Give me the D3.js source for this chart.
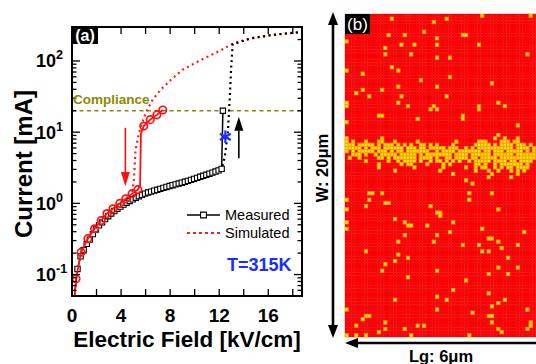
<!DOCTYPE html>
<html>
<head>
<meta charset="utf-8">
<script src="https://cdn.jsdelivr.net/npm/d3@7"></script>
<style>
  body { margin: 0; background: #fff; }
  svg { display: block; font-family: "Liberation Sans", Arial, sans-serif; }
</style>
</head>
<body>
<svg id="fig" width="536" height="364"></svg>
<script>
// ---- panel (a) data : field [kV/cm] vs current [mA]
var measX = [0.2, 0.45, 0.7, 0.95, 1.2, 1.45, 1.7, 1.95, 2.2, 2.45, 2.7, 2.95, 3.2, 3.45, 3.7, 3.95,
  4.2, 4.45, 4.7, 4.95, 5.2, 5.45, 5.7, 5.95, 6.2, 6.45, 6.7, 6.95, 7.2, 7.45, 7.7, 7.95, 8.2,
  8.45, 8.7, 8.95, 9.2, 9.45, 9.7, 9.95, 10.2, 10.45, 10.7, 10.95, 11.2, 11.45, 11.7, 11.95, 12.2, 12.3];
var measY = [0.05, 0.12, 0.18, 0.22, 0.27, 0.31, 0.37, 0.43, 0.49, 0.54, 0.6, 0.66, 0.72, 0.78, 0.84, 0.9,
  0.96, 1.02, 1.08, 1.14, 1.2, 1.26, 1.32, 1.37, 1.42, 1.46, 1.51, 1.55, 1.6, 1.65, 1.7, 1.75, 1.8,
  1.85, 1.9, 1.95, 2.01, 2.07, 2.14, 2.21, 2.28, 2.36, 2.44, 2.52, 2.61, 2.7, 2.8, 2.91, 3.05, 20];

// simulated, circles on the solid red trace
var simCirX = [0.33, 0.74, 1.3, 1.84, 2.38, 2.85, 3.34, 3.89, 4.38, 4.9, 5.37, 5.85, 6.38, 6.92, 7.4];
var simCirY = [0.087, 0.206, 0.32, 0.44, 0.575, 0.72, 0.84, 1.0, 1.16, 1.37, 1.56, 12.2, 15.0, 17.5, 20.5];
// solid red trace (includes the switching knee)
var simLineX = [0.22, 0.33, 0.74, 1.3, 1.84, 2.38, 2.85, 3.34, 3.89, 4.38, 4.9, 5.37, 5.55, 5.62, 5.85, 6.38, 6.92, 7.4];
var simLineY = [0.05, 0.087, 0.206, 0.32, 0.44, 0.575, 0.72, 0.84, 1.0, 1.16, 1.37, 1.56, 1.8, 9.5, 12.2, 15.0, 17.5, 20.5];
// simulated without compliance (red dotted)
var simDotX = [4.9, 5.05, 5.18, 5.45, 5.8, 6.1, 6.55, 7.2, 8.05, 9.0, 10.5, 12.1, 13.1, 14.6, 16.3, 18.7];
var simDotY = [1.45, 2.2, 5.6, 9.6, 15, 20, 28, 39, 54, 75, 103, 140, 175, 208, 232, 255];
// measured without compliance (black dotted)
var measDotX = [12.2, 12.45, 12.7, 12.85, 12.98, 13.1, 14.6, 16.3, 18.7];
var measDotY = [3.05, 4.5, 9.5, 28, 83, 172, 208, 232, 255];

var compliance = 20;
var redArrow = [4.35, 11.5, 1.75];    // x, from, to
var blackArrow = [13.6, 4.3, 16.5];
var starPoint = [12.5, 8.6];

var xMajor = [0, 4, 8, 12, 16];
var xMinor = [2, 6, 10, 14, 18];
var yExp = [-1, 0, 1, 2];

// ---- panel (b) data : yellow (broken) cells, [col, row]
var nCols = 60, nRows = 100;
var yellowDots = [[14,1],[31,1],[42,0],[57,0],[27,2],[13,6],[24,5],[18,6],[28,7],[36,6],[37,6],[17,9],[21,9],
  [28,9],[41,9],[12,10],[12,12],[20,12],[28,13],[0,8],[56,12],[32,13],[14,16],[16,17],[5,18],[32,19],[23,20],
  [45,21],[0,17],[28,22],[16,22],[3,24],[5,23],[11,23],[7,25],[17,25],[31,25],[0,27],[0,28],[47,27],[49,28],
  [16,27],[19,28],[27,28],[26,29],[28,29],[41,28],[41,29],[10,31],[11,31],[22,32],[36,31],[36,32],[0,33],
  [53,34],[47,37],[49,38],
  [7,55],[8,55],[11,55],[39,52],[37,51],[38,55],[45,55],[7,57],[12,58],[13,58],[6,59],[0,57],[0,60],[38,57],
  [26,59],[47,60],[28,61],[29,61],[29,62],[15,63],[18,64],[20,65],[19,65],[25,65],[33,64],[0,64],[0,66],
  [18,68],[32,67],[42,66],[28,68],[45,69],[44,69],[55,67],[16,70],[27,70],[36,71],[47,70],[41,71],[42,73],
  [44,73],[48,72],[53,71],[6,73],[16,74],[50,75],[12,77],[11,79],[19,75],[15,76],[44,80],[28,79],[47,78],
  [50,80],[53,78],[19,81],[37,82],[33,85],[44,86],[15,88],[28,87],[31,88],[45,90],[47,89],[49,88],[56,91],
  [28,91],[39,92],[44,93],[45,93],[57,95],[45,95],[6,93],[7,93],[5,94],[0,91],[3,96],[12,95],[12,97],[18,97],
  [22,96],[24,96],[47,97],[48,98],[56,97],[0,99],[3,99],[6,99],[10,98],[20,99],[38,99],[57,96]];
var bandStart = 38;
var bandRows = [
  "#..........#..................................#......#......",
  "#.#...#...##...#......#...........#......###....###.##......",
  "###.#####.#.###.#.#.#..##.#.#....#......#####.#.####.###.#..",
  "#####.#.###.######.###.##.#####.###..#.#.###########.####.##",
  "#.#.#####.###.#.##.#######..#.####.#######.##.###.#####.#.#.",
  "..###.#..#.#####.#####.#.########.####.######.######.#######",
  ".#..#.....##.#.#######.####.#..##.####.##.#####.###########.",
  "......#......#..#.####.#..#.##.#.#.#..#.#####.####.##.####..",
  "..........#......#.##....#....#.#.......##.#..#.#######.#...",
  "..........#..........#........#......#..#.##..#.#.##.####...",
  "...............#.............#..........#...#..#...#.#.#....",
  ".................................#...........#.......#......",
  "............................................#......#........"
];

var svg = d3.select("#fig");
var fontBold = "bold";

// ================= panel (a) =================
var x = d3.scaleLinear().domain([0, 18.75]).range([72, 302]),
    y = d3.scaleLog().domain([0.05, 300]).range([296, 27]);

svg.append("defs").append("clipPath")
    .attr("id", "clipA")
  .append("rect")
    .attr("x", 72).attr("y", 27)
    .attr("width", 230).attr("height", 269);

var plot = svg.append("g").attr("clip-path", "url(#clipA)");

function pts(xs, ys) {
  return xs.map(function(d, i) { return [d, ys[i]]; });
}
var line = d3.line()
    .x(function(d) { return x(d[0]); })
    .y(function(d) { return y(d[1]); });

// compliance line
plot.append("line")
    .attr("x1", x(0)).attr("x2", x(18.75))
    .attr("y1", y(compliance)).attr("y2", y(compliance))
    .attr("stroke", "#8c8a00").attr("stroke-width", 1.6)
    .attr("stroke-dasharray", "4,3.5");

// dotted (no compliance) curves
plot.append("path")
    .attr("d", line(pts(simDotX, simDotY)))
    .attr("fill", "none").attr("stroke", "#ff1a1a")
    .attr("stroke-width", 2.2).attr("stroke-dasharray", "2,3.5");
plot.append("path")
    .attr("d", line(pts(measDotX, measDotY)))
    .attr("fill", "none").attr("stroke", "#000")
    .attr("stroke-width", 2.2).attr("stroke-dasharray", "2,3.5")
    .attr("stroke-dashoffset", 2.5);

// measured
plot.append("path")
    .attr("d", line(pts(measX, measY)))
    .attr("fill", "none").attr("stroke", "#000").attr("stroke-width", 1.5);
plot.selectAll(".sq")
    .data(pts(measX, measY).slice(1))
  .enter().append("path")
    .attr("class", "sq")
    .attr("transform", function(d) { return "translate(" + x(d[0]) + "," + y(d[1]) + ")"; })
    .attr("d", d3.symbol(d3.symbolSquare).size(28))
    .attr("fill", "#fff").attr("stroke", "#000").attr("stroke-width", 1.1);

// simulated with compliance
plot.append("path")
    .attr("d", line(pts(simLineX, simLineY)))
    .attr("fill", "none").attr("stroke", "#ff1010").attr("stroke-width", 1.8);
plot.selectAll(".ci")
    .data(pts(simCirX, simCirY))
  .enter().append("circle")
    .attr("class", "ci")
    .attr("cx", function(d) { return x(d[0]); })
    .attr("cy", function(d) { return y(d[1]); })
    .attr("r", 3.7)
    .attr("fill", "none").attr("stroke", "#ff1010").attr("stroke-width", 1.7);

// arrows
function arrow(g, a, color) {
  var x0 = x(a[0]), y0 = y(a[1]), y1 = y(a[2]);
  var dir = y1 > y0 ? 1 : -1, head = 14, half = 4.5;
  g.append("line")
      .attr("x1", x0).attr("x2", x0)
      .attr("y1", y0).attr("y2", y1 - dir * head)
      .attr("stroke", color).attr("stroke-width", 1.6);
  g.append("path")
      .attr("d", "M" + x0 + "," + y1 + "L" + (x0 - half) + "," + (y1 - dir * head) +
                 "L" + (x0 + half) + "," + (y1 - dir * head) + "Z")
      .attr("fill", color);
}
arrow(plot, redArrow, "#ff1010");
arrow(plot, blackArrow, "#000");

plot.append("path")
    .attr("transform", "translate(" + x(starPoint[0]) + "," + y(starPoint[1]) + ")")
    .attr("d", d3.symbol(d3.symbolAsterisk).size(110))
    .attr("fill", "none").attr("stroke", "#1530ff").attr("stroke-width", 2.2);

// ticks (all inward)
var tk = svg.append("g").attr("stroke", "#000").attr("stroke-width", 1.3);
xMajor.concat(xMinor).forEach(function(v) {
  tk.append("line").attr("x1", x(v)).attr("x2", x(v)).attr("y1", 296).attr("y2", 289);
  tk.append("line").attr("x1", x(v)).attr("x2", x(v)).attr("y1", 27).attr("y2", 34);
});
y.ticks().forEach(function(v) {
  var major = Math.abs(Math.log10(v) - Math.round(Math.log10(v))) < 1e-6;
  var len = major ? 8 : 4.5;
  tk.append("line").attr("x1", 72).attr("x2", 72 + len).attr("y1", y(v)).attr("y2", y(v));
  tk.append("line").attr("x1", 302).attr("x2", 302 - len).attr("y1", y(v)).attr("y2", y(v));
});

svg.append("rect")
    .attr("x", 72).attr("y", 27).attr("width", 230).attr("height", 269)
    .attr("fill", "none").attr("stroke", "#000").attr("stroke-width", 2);

// tick labels
svg.selectAll(".xl")
    .data(xMajor)
  .enter().append("text")
    .attr("class", "xl")
    .attr("x", function(d) { return x(d); })
    .attr("y", 322)
    .attr("text-anchor", "middle")
    .attr("font-size", 19).attr("font-weight", fontBold)
    .text(function(d) { return d; });

var yl = svg.selectAll(".yl")
    .data(yExp)
  .enter().append("text")
    .attr("class", "yl")
    .attr("x", 36)
    .attr("y", function(d) { return y(Math.pow(10, d)) + 6.5; })
    .attr("font-size", 18).attr("font-weight", fontBold);
yl.append("tspan").text("10");
yl.append("tspan").attr("dy", -8).attr("font-size", 12.5)
    .text(function(d) { return d; });

// axis titles
svg.append("text")
    .attr("x", 187).attr("y", 347)
    .attr("text-anchor", "middle")
    .attr("font-size", 22.5).attr("font-weight", fontBold)
    .text("Electric Field [kV/cm]");
svg.append("text")
    .attr("transform", "translate(32,164) rotate(-90)")
    .attr("text-anchor", "middle")
    .attr("font-size", 24).attr("font-weight", fontBold)
    .text("Current [mA]");

// annotations
svg.append("text")
    .attr("x", 73).attr("y", 104)
    .attr("font-size", 13.5).attr("font-weight", fontBold)
    .attr("fill", "#8c8a00")
    .text("Compliance");

svg.append("rect").attr("x", 72).attr("y", 27).attr("width", 26).attr("height", 17).attr("fill", "#000");
svg.append("text")
    .attr("x", 85).attr("y", 41).attr("text-anchor", "middle")
    .attr("font-size", 16).attr("font-weight", fontBold).attr("fill", "#fff")
    .text("(a)");

// legend
var lg = svg.append("g");
lg.append("line").attr("x1", 187).attr("x2", 220).attr("y1", 215).attr("y2", 215)
    .attr("stroke", "#000").attr("stroke-width", 1.5);
lg.append("path").attr("transform", "translate(203.5,215)")
    .attr("d", d3.symbol(d3.symbolSquare).size(34))
    .attr("fill", "#fff").attr("stroke", "#000").attr("stroke-width", 1.1);
lg.append("text").attr("x", 225).attr("y", 220).attr("font-size", 14.5).text("Measured");
lg.append("line").attr("x1", 187).attr("x2", 220).attr("y1", 233).attr("y2", 233)
    .attr("stroke", "#ff1a1a").attr("stroke-width", 2).attr("stroke-dasharray", "3,3");
lg.append("text").attr("x", 225).attr("y", 238).attr("font-size", 14.5).text("Simulated");
svg.append("text")
    .attr("x", 227).attr("y", 271)
    .attr("font-size", 18).attr("font-weight", fontBold).attr("fill", "#1530ff")
    .text("T=315K");

// ================= panel (b) =================
var isYellow = {};
yellowDots.forEach(function(d) { isYellow[d[0] + "," + d[1]] = true; });
bandRows.forEach(function(s, i) {
  for (var c = 0; c < s.length && c < nCols; c++) {
    if (s[c] === "#") isYellow[c + "," + (bandStart + i)] = true;
  }
});

var cells = [];
d3.range(nRows).forEach(function(r) {
  d3.range(nCols).forEach(function(c) {
    cells.push({c: c, r: r, on: !!isYellow[c + "," + r]});
  });
});

var hx = d3.scaleBand().domain(d3.range(nCols)).range([345, 345 + nCols * 3.23]),
    hy = d3.scaleBand().domain(d3.range(nRows)).range([14, 337]);

var hm = svg.append("g");
hm.selectAll("rect")
    .data(cells)
  .enter().append("rect")
    .attr("x", function(d) { return hx(d.c); })
    .attr("y", function(d) { return hy(d.r); })
    .attr("width", hx.bandwidth())
    .attr("height", hy.bandwidth())
    .attr("fill", function(d) { return d.on ? "#f8ec10" : "#ff0000"; })
    .attr("stroke", function(d) { return d.on ? "#ff9a00" : "#dc0000"; })
    .attr("stroke-width", function(d) { return d.on ? 0.9 : 0.3; });
// yellow on top so borders are not overdrawn
hm.selectAll("rect").filter(function(d) { return d.on; }).raise();

svg.append("rect").attr("x", 345).attr("y", 14).attr("width", 25).attr("height", 20).attr("fill", "#000");
svg.append("text")
    .attr("x", 357.5).attr("y", 30).attr("text-anchor", "middle")
    .attr("font-size", 17).attr("fill", "#fff")
    .text("(b)");

// dimension arrows
var dim = svg.append("g").attr("fill", "#000");
dim.append("line").attr("x1", 333).attr("x2", 333).attr("y1", 22).attr("y2", 328)
    .attr("stroke", "#000").attr("stroke-width", 2.6);
dim.append("path").attr("d", "M333,12L328,25L338,25Z");
dim.append("path").attr("d", "M333,338L328,325L338,325Z");
dim.append("line").attr("x1", 355).attr("x2", 540).attr("y1", 343).attr("y2", 343)
    .attr("stroke", "#000").attr("stroke-width", 2.6);
dim.append("path").attr("d", "M345,343L358,338L358,348Z");

svg.append("text")
    .attr("transform", "translate(328,168) rotate(-90)")
    .attr("text-anchor", "middle")
    .attr("font-size", 16.5).attr("font-weight", fontBold)
    .text("W: 20μm");
svg.append("text")
    .attr("x", 441).attr("y", 362)
    .attr("text-anchor", "middle")
    .attr("font-size", 16.5).attr("font-weight", fontBold)
    .text("Lg: 6μm");
</script>
</body>
</html>
